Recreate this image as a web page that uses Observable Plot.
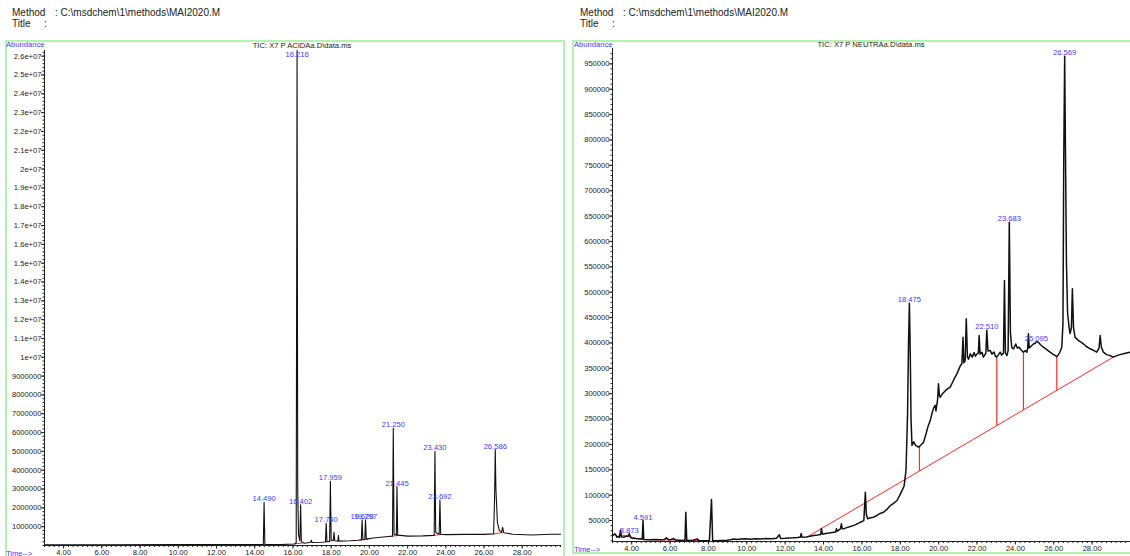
<!DOCTYPE html>
<html>
<head>
<meta charset="utf-8">
<script src="https://cdn.jsdelivr.net/npm/d3@7"></script>
<script src="https://cdn.jsdelivr.net/npm/@observablehq/plot@0.6"></script>
<style>
  html, body { margin: 0; padding: 0; background: #fff; }
  body { width: 1130px; height: 556px; overflow: hidden; position: relative;
         font-family: "Liberation Sans", Arial, sans-serif; color: #222; }
  .abs { position: absolute; white-space: pre; }
  .hdr { font-size: 10px; line-height: 12px; color: #222; }
  .small { font-size: 7.6px; line-height: 9px; }
  .blue { color: #3c3cff; }
  .box { position: absolute; border: 2px solid #b4f2b4; box-sizing: border-box; }
  .plot { position: absolute; top: 40px; }
  .plot svg { overflow: visible; }
</style>
</head>
<body>
<!-- report header for each run -->
<div class="abs hdr" style="left:12px; top:7px;">Method</div>
<div class="abs hdr" style="left:55px; top:7px;">: C:\msdchem\1\methods\MAI2020.M</div>
<div class="abs hdr" style="left:12px; top:18px;">Title</div>
<div class="abs hdr" style="left:44px; top:18px;">:</div>

<div class="abs hdr" style="left:580px; top:7px;">Method</div>
<div class="abs hdr" style="left:623px; top:7px;">: C:\msdchem\1\methods\MAI2020.M</div>
<div class="abs hdr" style="left:580px; top:18px;">Title</div>
<div class="abs hdr" style="left:612px; top:18px;">:</div>

<!-- panel frames -->
<div class="box" style="left:5px; top:40px; width:560px; height:540px;"></div>
<div class="box" style="left:572px; top:40px; width:600px; height:514px;"></div>

<div id="acida" class="plot" style="left:0px;"></div>
<div id="neutra" class="plot" style="left:566px;"></div>

<div class="abs small blue" style="left:6px; top:40px;">Abundance</div>
<div class="abs small" style="left:202px; top:40.5px; width:200px; text-align:center;">TIC: X7 P ACIDAa.D\data.ms</div>
<div class="abs small blue" style="left:6px; top:549px;">Time--&gt;</div>

<div class="abs small blue" style="left:574px; top:39.5px;">Abundance</div>
<div class="abs small" style="left:771px; top:40px; width:200px; text-align:center;">TIC: X7 P NEUTRAa.D\data.ms</div>
<div class="abs small blue" style="left:574px; top:545px;">Time--&gt;</div>

<script>
// ---- ACIDA run: total ion chromatogram [time (min), abundance] ----
const acidaTrace = [
  [3.00, 40000], [6.00, 40000], [10.00, 45000], [14.00, 50000],
  [14.45, 50000], [14.49, 2300000], [14.53, 50000],
  [15.50, 60000], [16.10, 80000], [16.17, 150000],
  [16.216, 26300000], [16.25, 3000000], [16.29, 600000], [16.36, 250000],
  [16.402, 2160000], [16.44, 200000], [16.60, 120000],
  [16.93, 170000], [16.96, 280000], [17.00, 160000],
  [17.50, 170000], [17.70, 190000], [17.74, 1180000], [17.78, 200000],
  [17.92, 220000], [17.959, 3410000], [18.00, 300000],
  [18.11, 250000], [18.15, 700000], [18.19, 250000],
  [18.35, 230000], [18.38, 530000], [18.41, 230000],
  [19.00, 250000], [19.40, 280000], [19.58, 300000],
  [19.62, 1360000], [19.66, 310000], [19.76, 320000],
  [19.797, 1360000], [19.84, 340000],
  [20.20, 400000], [20.60, 440000], [21.00, 480000], [21.21, 500000],
  [21.25, 6230000], [21.29, 600000], [21.41, 560000],
  [21.445, 3130000], [21.48, 550000],
  [22.00, 500000], [22.80, 510000], [23.39, 540000],
  [23.43, 5000000], [23.47, 700000], [23.65, 600000],
  [23.692, 2420000], [23.73, 600000],
  [24.00, 580000], [25.00, 590000], [26.00, 590000], [26.50, 620000],
  [26.55, 2500000], [26.586, 5100000], [26.62, 3000000], [26.70, 1200000],
  [26.80, 800000], [26.92, 700000], [26.97, 970000], [27.03, 680000],
  [27.50, 600000], [28.50, 560000], [29.50, 600000], [30.00, 600000]
];
const acidaPeakTimes = [14.490, 16.216, 16.402, 17.740, 17.959, 19.620, 19.797,
                        21.250, 21.445, 23.430, 23.692, 26.586];
// integration baselines [t1, a1, t2, a2]
const acidaBaselines = [
  [14.45, 50000, 14.53, 50000],
  [16.04, 90000, 16.50, 130000],
  [17.70, 190000, 18.07, 260000],
  [19.50, 290000, 19.95, 350000],
  [21.15, 490000, 21.55, 540000],
  [23.35, 540000, 23.80, 590000],
  [26.48, 610000, 26.97, 690000]
];
const acidaYTicks = [1000000, 2000000, 3000000, 4000000, 5000000, 6000000, 7000000,
  8000000, 9000000, 10000000, 11000000, 12000000, 13000000, 14000000, 15000000,
  16000000, 17000000, 18000000, 19000000, 20000000, 21000000, 22000000, 23000000,
  24000000, 25000000, 26000000];

// ---- NEUTRA run: total ion chromatogram [time (min), abundance] ----
const neutraTrace = [
  [3.00, 20500], [3.07, 22000], [3.12, 24000], [3.18, 21000], [3.24, 17000],
  [3.30, 19000], [3.36, 16500], [3.42, 31500], [3.46, 18000], [3.59, 17000],
  [3.70, 19500], [3.80, 18500], [3.873, 24000], [3.95, 16500], [4.03, 15200],
  [4.20, 14500], [4.37, 14000], [4.55, 13500], [4.591, 50000], [4.63, 12600],
  [4.90, 12200], [5.20, 12600], [5.50, 12000], [5.70, 12500], [5.81, 16000],
  [5.93, 12000], [6.05, 12500], [6.19, 14500], [6.30, 11500], [6.54, 10600],
  [6.78, 11000], [6.82, 66400], [6.87, 11000], [6.97, 10600], [7.20, 11200],
  [7.41, 13800], [7.50, 10800], [7.76, 10000], [8.05, 10200], [8.16, 91500],
  [8.22, 10500], [8.40, 10000], [8.70, 10600], [8.97, 11200], [9.15, 12200],
  [9.32, 13800], [9.50, 12500], [9.70, 13600], [9.93, 14200], [10.20, 13200],
  [10.45, 14300], [10.71, 13400], [11.00, 14500], [11.30, 14000], [11.55, 15000],
  [11.70, 21900], [11.76, 14800], [12.00, 15200], [12.20, 15800], [12.44, 16000],
  [12.65, 16800], [12.80, 17500], [12.83, 24400], [12.88, 17300], [13.10, 17800],
  [13.30, 19000], [13.48, 20500], [13.70, 21500], [13.85, 22500], [13.89, 34300],
  [13.94, 23000], [14.10, 24500], [14.30, 25500], [14.53, 27000], [14.63, 27500],
  [14.67, 33700], [14.72, 29000], [14.88, 33500], [14.93, 43600], [14.98, 33700],
  [15.10, 34500], [15.25, 36500], [15.40, 38200], [15.55, 40000], [15.70, 42500],
  [15.85, 45500], [16.00, 48000], [16.10, 50000], [16.18, 105900], [16.23, 62000],
  [16.30, 53400], [16.45, 55500], [16.61, 56600], [16.80, 60500], [16.95, 64000],
  [17.13, 66400], [17.30, 72000], [17.48, 79600], [17.65, 84000], [17.83, 89500],
  [17.95, 98000], [18.09, 109000], [18.20, 118000], [18.30, 150000], [18.38, 260000],
  [18.43, 400000], [18.475, 478000], [18.52, 380000], [18.56, 250000], [18.61, 198000],
  [18.70, 205000], [18.80, 198000], [18.95, 194500], [19.00, 196000], [19.10, 200000],
  [19.21, 204000], [19.35, 222000], [19.45, 236000], [19.56, 247000], [19.66, 262000],
  [19.74, 272000], [19.82, 277000], [19.86, 266000], [19.95, 290000], [19.99, 319500],
  [20.04, 296000], [20.08, 293000], [20.20, 300000], [20.35, 306000], [20.48, 310000],
  [20.60, 313000], [20.72, 322000], [20.85, 332000], [20.95, 339000], [21.05, 348000],
  [21.13, 355000], [21.21, 359000], [21.27, 411000], [21.31, 361000], [21.38, 365000],
  [21.44, 447600], [21.50, 372000], [21.56, 368000], [21.65, 378600], [21.75, 372000],
  [21.85, 381000], [21.92, 374000], [22.00, 378600], [22.07, 380000], [22.11, 414700],
  [22.16, 378000], [22.26, 381800], [22.33, 372000], [22.40, 376000], [22.46, 380000],
  [22.51, 425000], [22.57, 384000], [22.69, 385000], [22.78, 378000], [22.88, 382000],
  [22.96, 374000], [23.03, 372000], [23.12, 377000], [23.21, 381800], [23.28, 376000],
  [23.38, 380000], [23.43, 523000], [23.48, 380000], [23.56, 375000], [23.62, 385000],
  [23.683, 638000], [23.74, 420000], [23.81, 391600], [23.90, 388000], [24.02, 398000],
  [24.10, 390000], [24.19, 391600], [24.30, 386000], [24.42, 381800], [24.52, 385000],
  [24.60, 381800], [24.64, 390000], [24.68, 418000], [24.72, 390000], [24.80, 393000],
  [24.94, 398000], [25.05, 400000], [25.095, 402500], [25.20, 401500], [25.30, 397000],
  [25.46, 391600], [25.60, 388000], [25.70, 385000], [25.81, 381800], [25.95, 378000],
  [26.05, 376000], [26.16, 373000], [26.30, 380000], [26.42, 391600], [26.48, 440000],
  [26.52, 760000], [26.569, 965000], [26.61, 780000], [26.66, 560000], [26.72, 460000],
  [26.80, 430000], [26.85, 418600], [26.92, 430000], [26.97, 506700], [27.03, 430000],
  [27.11, 411000], [27.20, 408000], [27.29, 404800], [27.40, 402000], [27.55, 398000],
  [27.70, 393000], [27.90, 388500], [28.05, 386000], [28.24, 381800], [28.36, 390000],
  [28.42, 414700], [28.48, 392000], [28.59, 381800], [28.75, 377000], [28.94, 375000],
  [29.10, 372000], [29.29, 375000], [29.45, 377000], [29.63, 378600], [29.80, 380000],
  [30.00, 381800]
];
const neutraPeakTimes = [3.873, 4.591, 18.475, 22.510, 23.683, 25.095, 26.569];
// integration baselines [t1, a1, t2, a2]
const neutraBaselines = [
  [3.42, 22000, 4.55, 12600],
  [4.55, 12600, 7.60, 10600],
  [13.10, 16600, 29.10, 372000]
];
// peak drop lines [t, signal, baseline]
const neutraDrops = [
  [19.00, 196000, 148000],
  [23.03, 372000, 237000],
  [24.42, 381800, 268000],
  [26.16, 373000, 306700]
];
const neutraYTicks = [50000, 100000, 150000, 200000, 250000, 300000, 350000, 400000,
  450000, 500000, 550000, 600000, 650000, 700000, 750000, 800000, 850000, 900000, 950000];

const timeTicks = [4, 6, 8, 10, 12, 14, 16, 18, 20, 22, 24, 26, 28];

// ---- drawing ----
const ink = "#222";
const labelBlue = "#3c3cff";
const red = "#ff2a2a";
const fs = 7.6;
const apex = (trace, t) => trace.find(p => Math.abs(p[0] - t) < 1e-9)[1];
const fmtTime = d => d.toFixed(2);
const fmtAcida = v => v >= 1e7 ? `${+(v / 1e7).toFixed(2)}e+07` : `${v}`;
const minorTime = d3.range(3, 30.001, 0.25);

function chromatogram({trace, peaks, baselines, drops, yDomain, yTicks, yMinor, yFormat,
                       width, marginLeft, marginRight, marginTop, marginBottom, labelCap,
                       traceWidth}) {
  const marks = [
    Plot.axisY({ticks: yMinor, tickSize: 1.5, tickFormat: () => "", label: null, stroke: ink}),
    Plot.axisY({ticks: yTicks, tickSize: 3, tickPadding: 0, tickFormat: yFormat, label: null,
                fontSize: fs, fill: ink, stroke: ink}),
    Plot.axisX({ticks: minorTime, tickSize: 2, tickFormat: () => "", label: null, stroke: ink}),
    Plot.axisX({ticks: timeTicks, tickSize: 3.5, tickPadding: 1, tickFormat: fmtTime, label: null,
                fontSize: fs, fill: ink, stroke: ink}),
    Plot.ruleX([3], {stroke: ink, strokeWidth: 1}),
    Plot.ruleY([yDomain[0]], {stroke: ink, strokeWidth: 1}),
    Plot.link(baselines, {x1: d => d[0], y1: d => d[1], x2: d => d[2], y2: d => d[3],
                          stroke: red, strokeWidth: 1}),
  ];
  if (drops) {
    marks.push(Plot.link(drops, {x1: d => d[0], y1: d => d[1], x2: d => d[0], y2: d => d[2],
                                 stroke: red, strokeWidth: 1.2}));
  }
  marks.push(
    Plot.line(trace, {x: d => d[0], y: d => d[1], stroke: "#111", strokeWidth: traceWidth,
                      strokeLinejoin: "round"}),
    Plot.text(peaks, {x: d => d, y: d => Math.min(apex(trace, d), labelCap),
                      text: d => d.toFixed(3), lineAnchor: "bottom", dy: -1,
                      fill: labelBlue, fontSize: fs})
  );
  return Plot.plot({
    width, height: 516, marginLeft, marginRight, marginTop, marginBottom,
    x: {domain: [3, 30]},
    y: {domain: yDomain},
    style: {background: "transparent", fontFamily: "'Liberation Sans', Arial, sans-serif",
            fontSize: `${fs}px`, color: ink, overflow: "visible"},
    marks
  });
}

document.getElementById("acida").append(chromatogram({
  trace: acidaTrace, peaks: acidaPeakTimes, baselines: acidaBaselines,
  yDomain: [0, 26300000], yTicks: acidaYTicks, yMinor: d3.range(0, 26300000, 200000),
  yFormat: fmtAcida, width: 565, marginLeft: 44, marginRight: 5, marginTop: 10,
  marginBottom: 11, labelCap: 25900000, traceWidth: 1.1
}));

document.getElementById("neutra").append(chromatogram({
  trace: neutraTrace, peaks: neutraPeakTimes, baselines: neutraBaselines, drops: neutraDrops,
  yDomain: [8700, 980300], yTicks: neutraYTicks, yMinor: d3.range(10000, 980000, 10000),
  yFormat: v => `${v}`, width: 564, marginLeft: 46, marginRight: 0, marginTop: 8,
  marginBottom: 15, labelCap: Infinity, traceWidth: 1.5
}));
</script>
</body>
</html>
